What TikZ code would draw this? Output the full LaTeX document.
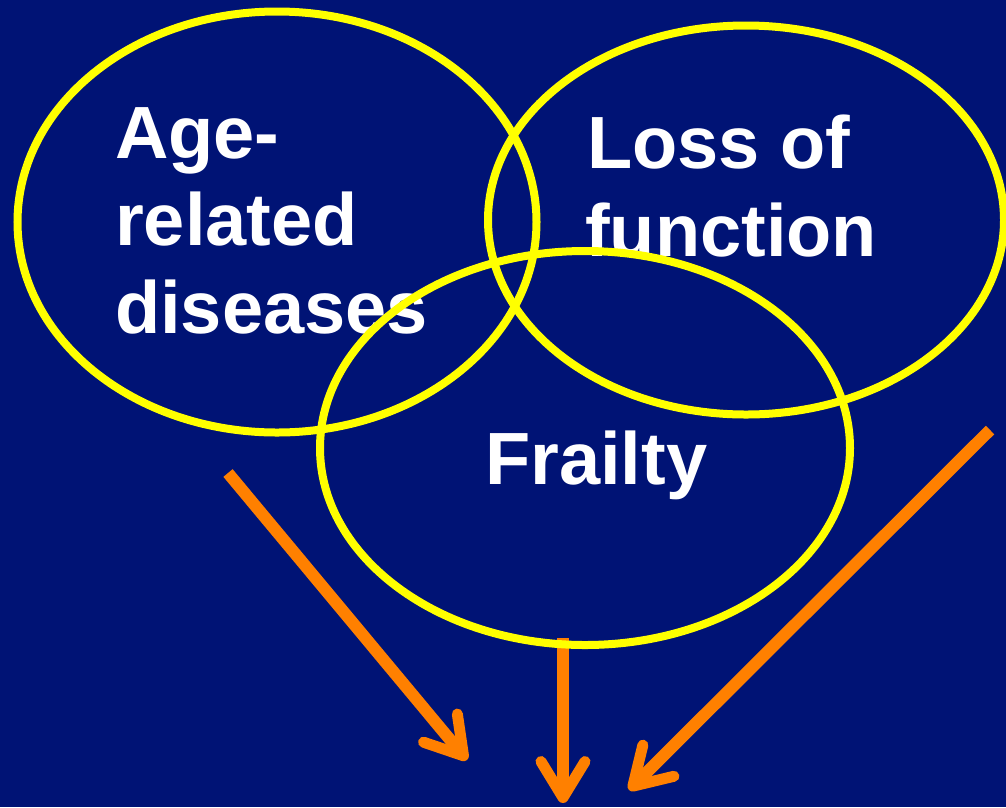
\documentclass[tikz,border=0pt]{standalone}
\usepackage{fontspec}
\setmainfont{Liberation Sans}
\usetikzlibrary{shapes.geometric,arrows.meta}
\definecolor{navy}{RGB}{0,19,117}
\definecolor{venny}{RGB}{255,255,0}
\definecolor{arroworange}{RGB}{255,128,0}
\tikzset{
  label/.style={anchor=base west, inner sep=0pt, text=white, font=\fontsize{74}{88}\selectfont\bfseries},
  ring/.style={ellipse, draw=venny, line width=8pt, inner sep=0pt},
  flow/.style={draw=arroworange, line width=12pt,
    -{Straight Barb[length=36pt, width=44pt, round, line width=11pt]}},
}
\begin{document}
\begin{tikzpicture}[x=1pt, y=-1pt]
\fill[navy] (0,0) rectangle (1006,807);
\useasboundingbox (0,0) rectangle (1006,807);
% texts
\node[label] (t1) at (115,158) {Age-};
\node[label] (t2) at (115,245) {related};
\node[label] (t3) at (115,333) {diseases};
\node[label] (t4) at (587,168) {Loss of};
\node[label] (t5) at (585,256) {function};
\node[label] (t6) at (485,484) {Frailty};
% arrow end points
\coordinate (a1s) at (228,473);
\coordinate (a1e) at (467,760);
\coordinate (a2s) at (563,638);
\coordinate (a2e) at (563,803);
\coordinate (a3s) at (990,430);
\coordinate (a3e) at (629,790);
\draw[flow] (a1s) -- (a1e);
\draw[flow] (a2s) -- (a2e);
\draw[flow] (a3s) -- (a3e);
% ellipses
\node[ring, minimum width=519pt, minimum height=421pt] (disease) at (277,222) {};
\node[ring, minimum width=516pt, minimum height=389pt] (loss) at (746,220) {};
\node[ring, minimum width=530pt, minimum height=394pt] (frail) at (585,448) {};
\end{tikzpicture}
\end{document}
